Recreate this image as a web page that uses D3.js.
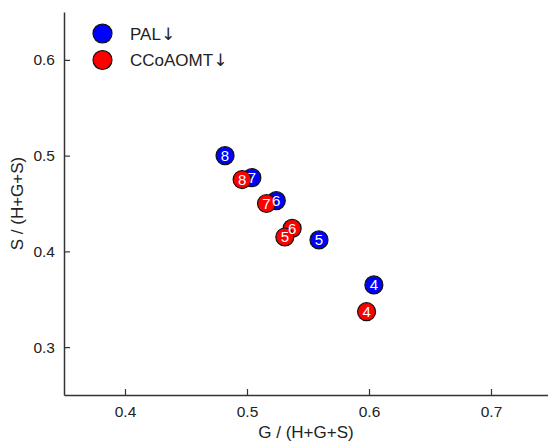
<!DOCTYPE html>
<html><head><meta charset="utf-8">
<script src="https://cdn.jsdelivr.net/npm/d3@7"></script>
<style>body{margin:0;background:#fff}svg{display:block;font-family:"Liberation Sans",Arial,sans-serif}</style>
</head><body>
<script>
const seriesNames = ["PAL", "CCoAOMT"];
const seriesSuffix = "↓";
const seriesColors = ["#0000ff", "#ff0000"];
const palLabels = ["4", "5", "6", "7", "8"];
const palG = [0.604, 0.559, 0.524, 0.504, 0.482];
const palS = [0.365, 0.412, 0.453, 0.477, 0.500];
const ccoLabels = ["4", "5", "6", "7", "8"];
const ccoG = [0.598, 0.531, 0.537, 0.516, 0.496];
const ccoS = [0.337, 0.415, 0.424, 0.450, 0.475];
const xTicks = [0.4, 0.5, 0.6, 0.7];
const yTicks = [0.3, 0.4, 0.5, 0.6];
const xTitle = "G / (H+G+S)";
const yTitle = "S / (H+G+S)";

const W = 548, H = 442;
const svg = d3.select("body").append("svg").attr("width", W).attr("height", H);
const x = d3.scaleLinear().domain([0.35, 0.75]).range([64, 552]);
const y = d3.scaleLinear().domain([0.25, 0.65]).range([395, 12]);
const axisColor = "#333";

// axes
const gx = svg.append("g").attr("transform", `translate(0,${y(0.25)})`)
  .call(d3.axisBottom(x).tickValues(xTicks).tickSizeInner(-6).tickSizeOuter(0).tickPadding(11).tickFormat(d3.format(".1f")));
const gy = svg.append("g").attr("transform", `translate(${x(0.35)},0)`)
  .call(d3.axisLeft(y).tickValues(yTicks).tickSizeInner(-6).tickSizeOuter(0).tickPadding(9).tickFormat(d3.format(".1f")));
[gx, gy].forEach(g => {
  g.select(".domain").attr("stroke", axisColor).attr("stroke-width", 1.5);
  g.selectAll(".tick line").attr("stroke", axisColor).attr("stroke-width", 1.2);
  g.selectAll(".tick text").attr("fill", "#222").style("font-size", "15.5px").style("font-family", "Liberation Sans, Arial, sans-serif");
});
gx.selectAll(".tick text").attr("dy", "0.71em");

svg.append("text").attr("x", (x(0.35) + 548) / 2).attr("y", 438).attr("text-anchor", "middle")
  .attr("fill", "#222").style("font-size", "17px").text(xTitle);
svg.append("text").attr("transform", `translate(23,${(y(0.25) + y(0.65)) / 2}) rotate(-90)`)
  .attr("text-anchor", "middle").attr("fill", "#222").style("font-size", "17px").text(yTitle);

// data
const data = [];
palLabels.forEach((l, i) => data.push({s: 0, l, g: palG[i], v: palS[i]}));
ccoLabels.forEach((l, i) => data.push({s: 1, l, g: ccoG[i], v: ccoS[i]}));
const ordered = data.slice().reverse().sort((a, b) => a.s - b.s);

svg.append("g").selectAll("circle").data(ordered).join("circle")
  .attr("cx", d => x(d.g)).attr("cy", d => y(d.v)).attr("r", 9)
  .attr("fill", d => seriesColors[d.s]).attr("stroke", "#111").attr("stroke-width", 1.2);
svg.append("g").selectAll("text").data(ordered).join("text")
  .attr("x", d => x(d.g)).attr("y", d => y(d.v)).attr("dy", "0.36em")
  .attr("text-anchor", "middle").attr("fill", "#fff").style("font-size", "15px").text(d => d.l);

// legend
const lg = svg.append("g");
seriesNames.forEach((n, i) => {
  lg.append("circle").attr("cx", 102.5).attr("cy", 33.5 + i * 26.5).attr("r", 9.5)
    .attr("fill", seriesColors[i]).attr("stroke", "#111").attr("stroke-width", 1.2);
  const t = lg.append("text").attr("x", 130).attr("y", 33.5 + i * 26.5).attr("dy", "0.36em")
    .attr("fill", "#222").style("font-size", "17px");
  t.append("tspan").text(n);
  t.append("tspan").style("font-family", "DejaVu Sans").style("font-size", "17px").text(seriesSuffix);
});
</script>
</body></html>
